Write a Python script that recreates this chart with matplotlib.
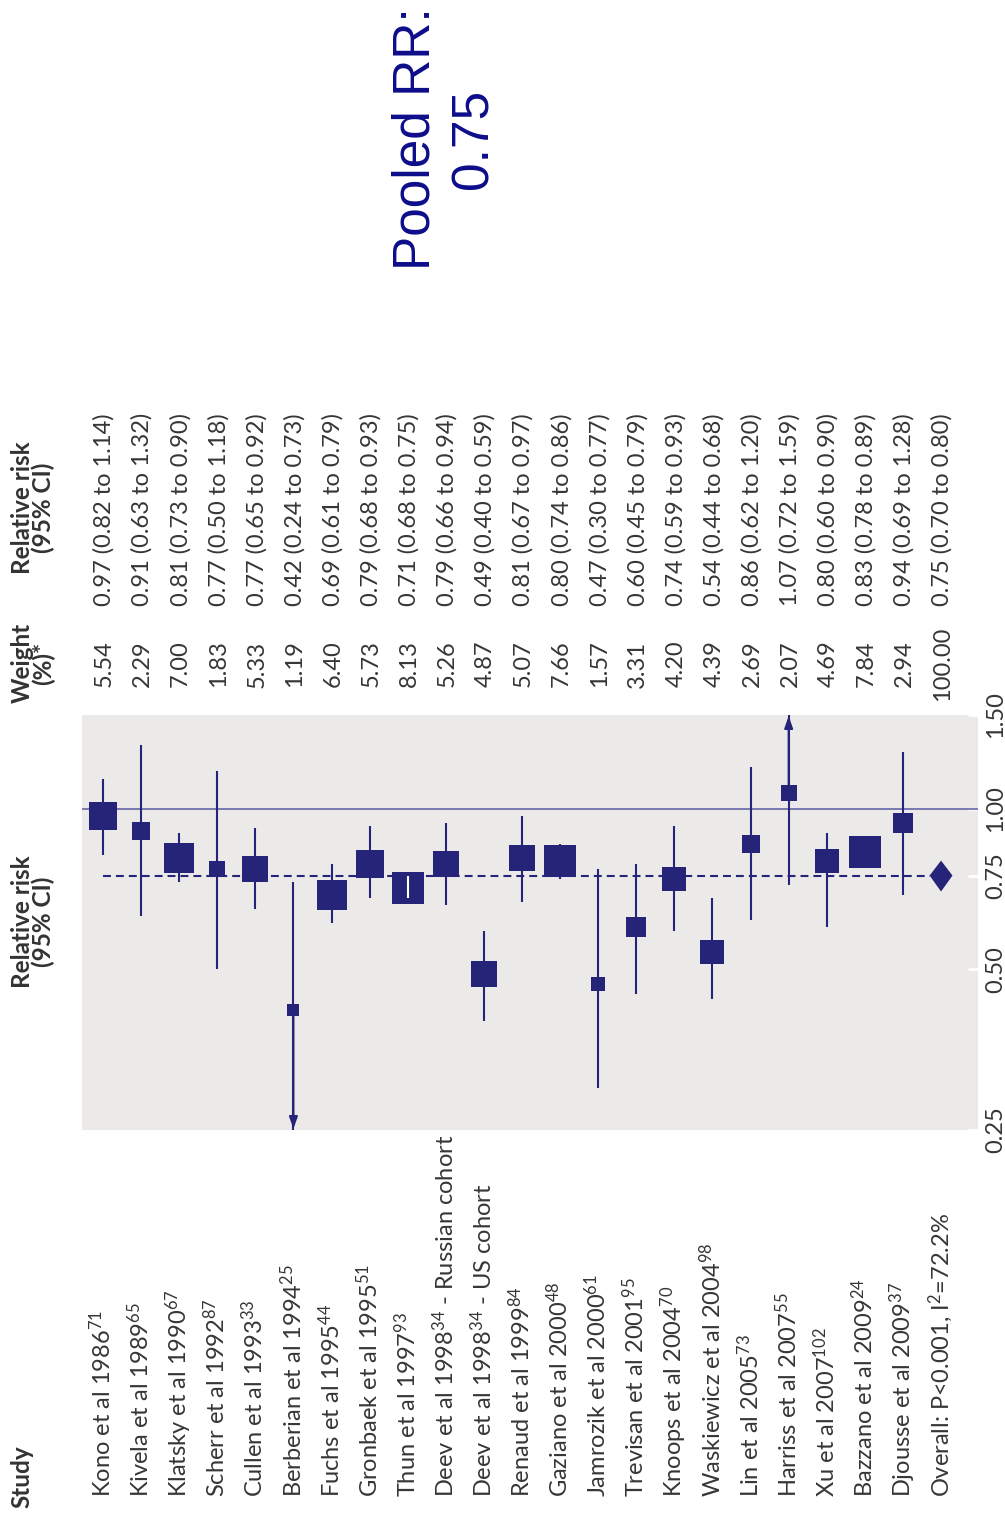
import numpy as np
import matplotlib
matplotlib.use("Agg")
import matplotlib.pyplot as plt
from matplotlib import transforms
from matplotlib.ticker import NullLocator

# Studies, newest last; the pooled estimate is drawn as its own row.
studies = [
    "Kono et al 1986$^{71}$", "Kivela et al 1989$^{65}$", "Klatsky et al 1990$^{67}$",
    "Scherr et al 1992$^{87}$", "Cullen et al 1993$^{33}$", "Berberian et al 1994$^{25}$",
    "Fuchs et al 1995$^{44}$", "Gronbaek et al 1995$^{51}$", "Thun et al 1997$^{93}$",
    "Deev et al 1998$^{34}$ - Russian cohort", "Deev et al 1998$^{34}$ - US cohort",
    "Renaud et al 1999$^{84}$", "Gaziano et al 2000$^{48}$", "Jamrozik et al 2000$^{61}$",
    "Trevisan et al 2001$^{95}$", "Knoops et al 2004$^{70}$", "Waskiewicz et al 2004$^{98}$",
    "Lin et al 2005$^{73}$", "Harriss et al 2007$^{55}$", "Xu et al 2007$^{102}$",
    "Bazzano et al 2009$^{24}$", "Djousse et al 2009$^{37}$",
]
rr = [0.97, 0.91, 0.81, 0.77, 0.77, 0.42, 0.69, 0.79, 0.71, 0.79, 0.49,
      0.81, 0.80, 0.47, 0.60, 0.74, 0.54, 0.86, 1.07, 0.80, 0.83, 0.94]
ci_lo = [0.82, 0.63, 0.73, 0.50, 0.65, 0.24, 0.61, 0.68, 0.68, 0.66, 0.40,
         0.67, 0.74, 0.30, 0.45, 0.59, 0.44, 0.62, 0.72, 0.60, 0.78, 0.69]
ci_hi = [1.14, 1.32, 0.90, 1.18, 0.92, 0.73, 0.79, 0.93, 0.75, 0.94, 0.59,
         0.97, 0.86, 0.77, 0.79, 0.93, 0.68, 1.20, 1.59, 0.90, 0.89, 1.28]
weight = [5.54, 2.29, 7.00, 1.83, 5.33, 1.19, 6.40, 5.73, 8.13, 5.26, 4.87,
          5.07, 7.66, 1.57, 3.31, 4.20, 4.39, 2.69, 2.07, 4.69, 7.84, 2.94]

overall_label = "Overall: P<0.001, I$^2$=72.2%"
overall_rr, overall_lo, overall_hi, overall_weight = 0.75, 0.70, 0.80, 100.00

rr_ticks = [0.25, 0.50, 0.75, 1.00, 1.50]
rr_min, rr_max = 0.25, 1.50

NAVY = "#262479"
TEXT = "#363636"
BG = "#ebeae9"
W, H = 1005, 1519
FS = 17

plt.rcParams["mathtext.default"] = "regular"
plt.rcParams["font.family"] = ["Lato", "DejaVu Sans"]

fig = plt.figure(figsize=(W / 100, H / 100), dpi=100)
# plot panel in pixel terms: columns 82..978, rows 715..1130 from the top
ax = fig.add_axes([82 / W, 1 - 1130 / H, (978 - 82) / W, (1130 - 715) / H])
ax.set_facecolor(BG)
for s in ax.spines.values():
    s.set_visible(False)

n = len(studies)
rows = np.arange(n)
ax.set_yscale("log")
ax.set_ylim(rr_min, rr_max)
ax.set_xlim(-0.55, n + 0.97)
ax.set_xticks([])

ax.set_yticks(rr_ticks)
ax.set_yticklabels([f"{t:.2f}" for t in rr_ticks])
ax.yaxis.set_minor_locator(NullLocator())
ax.tick_params(axis="y", left=False, right=True, labelleft=False, labelright=True,
               direction="in", length=7, width=2, color="white", pad=5,
               labelsize=FS, labelcolor=TEXT, labelrotation=90)
for lab in ax.get_yticklabels():
    lab.set_verticalalignment("center")

# reference lines: no effect and pooled estimate
ax.axhline(1.0, color="#5a59a3", lw=1.1, zorder=2)
ax.plot([0, n - 0.3], [overall_rr, overall_rr], color=NAVY, lw=1.5,
        dashes=(3.8, 2.4), zorder=2)

# box side in pixels scales with sqrt(weight)
box_px = 11.5 * np.sqrt(weight)
fig.canvas.draw()
px_per_ln = ax.get_window_extent().height / np.log(rr_max / rr_min)

arrow = dict(arrowstyle="-|>,head_length=0.7,head_width=0.25",
             color=NAVY, lw=1.5, shrinkA=0, shrinkB=0)
for i in rows:
    lo_draw = max(ci_lo[i], rr_min)
    hi_draw = min(ci_hi[i], rr_max)
    ax.plot([i, i], [lo_draw, hi_draw], color=NAVY, lw=1.5, zorder=3,
            solid_capstyle="butt")
    ax.plot(i, rr[i], marker="s", ms=box_px[i] * 0.72, color=NAVY,
            mec=NAVY, mew=0, ls="none", zorder=4)
    half = box_px[i] / 2 / px_per_ln
    if np.log(ci_hi[i] / rr[i]) < half and np.log(rr[i] / ci_lo[i]) < half:
        ax.plot([i, i], [ci_lo[i], ci_hi[i]], color="white", lw=1.5, zorder=5,
                solid_capstyle="butt")
    # CI running off the scale gets an arrow
    if ci_lo[i] < rr_min:
        ax.annotate("", xy=(i, rr_min * 1.005), xytext=(i, rr[i]),
                    arrowprops=arrow, zorder=3)
    if ci_hi[i] > rr_max:
        ax.annotate("", xy=(i, rr_max / 1.005), xytext=(i, rr[i]),
                    arrowprops=arrow, zorder=3)

# pooled diamond
ax.fill([n - 0.3, n, n + 0.3, n], [overall_rr, overall_hi, overall_rr, overall_lo],
        color=NAVY, lw=0, zorder=4)

# table text: x follows the plot rows, y is in figure pixels from the top
row_trans = transforms.blended_transform_factory(ax.transData, fig.transFigure)
label_trans = transforms.offset_copy(row_trans, fig=fig, x=8, y=0, units="dots")


def fy(px):
    return 1 - px / H


labels = studies + [overall_label]
weights_all = weight + [overall_weight]
rr_all = rr + [overall_rr]
lo_all = ci_lo + [overall_lo]
hi_all = ci_hi + [overall_hi]
cell = dict(transform=label_trans, rotation=90, rotation_mode="anchor",
            va="baseline", fontsize=FS, color=TEXT, clip_on=False)
for i, lab in enumerate(labels):
    ax.text(i, fy(1497), lab, ha="left", **cell)
    ax.text(i, fy(664), f"{weights_all[i]:.2f}", ha="center", **cell)
    ax.text(i, fy(606), f"{rr_all[i]:.2f} ({lo_all[i]:.2f} to {hi_all[i]:.2f})",
            ha="left", **cell)

# column headers
head = dict(rotation=90, fontsize=17.5, fontweight="bold", color="#333333",
            linespacing=0.85, multialignment="center")
fig.text(22 / W, fy(1508), "Study", rotation_mode="anchor", ha="left",
         va="center", **head)
fig.text(33 / W, fy(922), "Relative risk\n(95% CI)", ha="center", va="center", **head)
fig.text(33 / W, fy(663), "Weight\n(%)*", ha="center", va="center", **head)
fig.text(33 / W, fy(508), "Relative risk\n(95% CI)", ha="center", va="center", **head)

fig.text(445 / W, fy(139), f"Pooled RR:\n{overall_rr:.2f}", rotation=90,
         ha="center", va="center", multialignment="center", fontsize=37,
         linespacing=1.25, color="#0d0d8a", family=["Liberation Sans", "DejaVu Sans"])

fig.savefig("out.png", dpi=100, facecolor="white")
